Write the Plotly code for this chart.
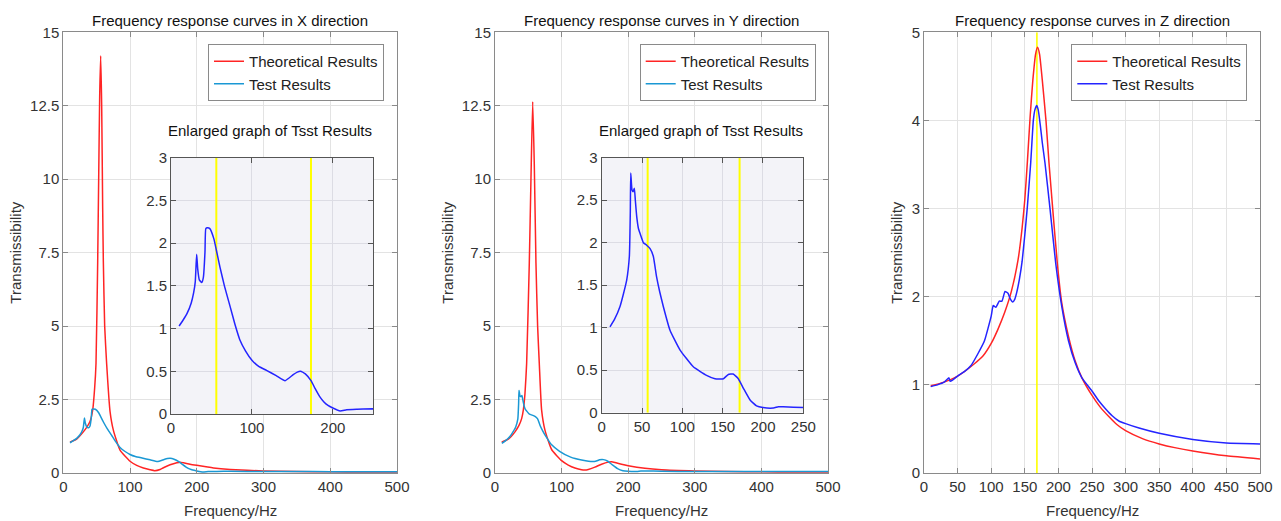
import plotly.graph_objects as go

# ---------------- data ----------------
fx_theory = [10, 20, 30, 35, 40, 44, 47, 49, 51.5, 53, 54.5, 56, 57.5, 59, 60, 62, 65, 70, 75, 85,
             100, 110, 120, 130, 137, 145, 150, 160, 170, 175, 180, 190, 200, 225, 250, 300, 350, 400, 450, 500]
tx_theory = [1.05, 1.15, 1.4, 1.55, 1.75, 2.14, 2.9, 3.73, 7.15, 10.0, 12.8, 14.2, 12.5, 9.0, 7.2, 5.0, 3.7, 2.1,
             1.46, 0.78, 0.4, 0.26, 0.17, 0.11, 0.08, 0.12, 0.18, 0.28, 0.35, 0.37, 0.35, 0.3, 0.26, 0.17, 0.12,
             0.07, 0.05, 0.04, 0.035, 0.03]

fx_test = [10, 15, 20, 25, 28, 30, 31.7, 33, 35, 38, 40, 42, 43, 45, 48, 53, 56, 60.5, 66, 73, 79, 85, 92,
           100, 108, 118, 130, 141, 151, 156, 160, 166, 173, 178, 184, 189, 194, 200, 209, 217, 230, 250,
           300, 350, 400, 450, 500]
tx_test = [1.03, 1.1, 1.18, 1.3, 1.42, 1.55, 1.87, 1.7, 1.57, 1.54, 1.6, 1.9, 2.17, 2.18, 2.17, 2.05, 1.92, 1.72,
           1.5, 1.26, 1.05, 0.87, 0.74, 0.63, 0.56, 0.51, 0.45, 0.39, 0.46, 0.49, 0.5, 0.47, 0.39, 0.3, 0.2, 0.14,
           0.1, 0.07, 0.035, 0.05, 0.055, 0.06, 0.05, 0.05, 0.045, 0.045, 0.045]

fy_theory = [10, 20, 30, 36, 40, 42.5, 45, 47.5, 51.5, 54, 56.6, 59, 61.5, 64, 66.5, 70, 75, 85,
             100, 110, 120, 130, 135, 140, 150, 160, 170, 175, 180, 190, 200, 225, 250, 300, 350, 400, 450, 500]
ty_theory = [1.05, 1.15, 1.4, 1.62, 1.85, 2.14, 2.7, 3.73, 7.15, 10.0, 12.64, 10.5, 7.15, 5.0, 3.73, 2.14, 1.46,
             0.8, 0.42, 0.27, 0.17, 0.11, 0.1, 0.12, 0.2, 0.3, 0.37, 0.38, 0.36, 0.3, 0.25, 0.16, 0.11,
             0.07, 0.05, 0.04, 0.035, 0.03]

fy_test = [10.3, 16, 22.7, 27, 31, 34.3, 35.5, 36, 37.6, 39, 40.5, 41.7, 43.5, 45.5, 47.5, 51.7, 55.8, 60, 64, 68,
           72, 76.4, 84.7, 97, 113.6, 130, 140.5, 151, 157, 163, 169.4, 175.6, 184, 192, 200, 213, 219, 225, 250,
           300, 350, 400, 450, 500]
ty_test = [1.01, 1.1, 1.25, 1.4, 1.56, 1.84, 2.38, 2.82, 2.62, 2.6, 2.64, 2.5, 2.3, 2.17, 2.11, 2.0, 1.97, 1.93,
           1.84, 1.6, 1.42, 1.25, 0.97, 0.74, 0.54, 0.44, 0.4, 0.4, 0.45, 0.455, 0.4, 0.29, 0.15, 0.08, 0.06, 0.055,
           0.07, 0.07, 0.06, 0.05, 0.05, 0.05, 0.05, 0.05]

fz_theory = [10, 25, 50, 75, 88, 100, 110, 120, 130, 140, 146, 150, 154, 158, 162, 166, 169, 172, 176, 181.5,
             186, 191.5, 198.4, 205, 215, 225, 235, 250, 262, 275, 287, 300, 325, 350, 375, 400, 450, 500]
tz_theory = [0.99, 1.02, 1.1, 1.24, 1.33, 1.47, 1.63, 1.82, 2.06, 2.42, 2.78, 3.1, 3.55, 4.05, 4.46, 4.75, 4.83,
             4.75, 4.46, 4.0, 3.52, 3.0, 2.38, 1.93, 1.55, 1.27, 1.08, 0.88, 0.75, 0.64, 0.55, 0.48, 0.39, 0.33,
             0.285, 0.25, 0.195, 0.16]

fz_test = [10, 20, 30, 37, 39, 42, 50, 60, 70, 80, 90, 100, 103, 107, 112, 116, 120.5, 125, 128, 132, 135, 138,
           142, 146, 150, 153.8, 158.8, 162.7, 165, 167.7, 170, 173, 176, 180, 187.5, 196, 205, 215, 225, 235,
           250, 260, 270, 280, 290, 300, 320, 350, 400, 450, 500]
tz_test = [0.98, 1.0, 1.03, 1.08, 1.04, 1.05, 1.1, 1.15, 1.22, 1.35, 1.5, 1.78, 1.9, 1.88, 1.95, 1.95, 2.06, 2.04,
           1.98, 1.94, 1.97, 2.05, 2.2, 2.4, 2.7, 3.02, 3.52, 4.0, 4.12, 4.17, 4.12, 3.95, 3.75, 3.52, 3.0, 2.38,
           1.89, 1.5, 1.25, 1.08, 0.93, 0.82, 0.73, 0.65, 0.59, 0.56, 0.51, 0.45, 0.38, 0.34, 0.33]

marks_x = [56, 173]     # yellow lines, X inset
marks_y = [57, 171]     # yellow lines, Y inset
mark_z = 168            # yellow line, Z panel

main_titles = ["Frequency response curves in X direction",
               "Frequency response curves in Y direction",
               "Frequency response curves in Z direction"]
inset_title = "Enlarged graph of Tsst Results"
legend_names = ["Theoretical Results", "Test Results"]

# ---------------- styling ----------------
OFF = 8                      # page body margin
W, H = 1281 - OFF, 521 - OFF
FONT = "Liberation Sans, Arial, sans-serif"
FS = 15
TXT = "#333333"
RED = "#ff2424"
CYAN = "#1a98d4"
BLUE = "#2424ff"
YELLOW = "#ffff00"
INSET_BG = "#f3f3f8"


def px_x(p):
    return (p - OFF) / W


def px_y(p):
    return 1 - (p - OFF) / H


panels = [(63.3, 397), (495, 828), (924, 1260)]
insets = [(171, 373.3, 157.7, 414), (601.7, 803.3, 157.7, 412.7)]
top, bottom = 32.3, 473

fig = go.Figure()

# main panels
series = [(fx_theory, tx_theory, fx_test, tx_test, CYAN),
          (fy_theory, ty_theory, fy_test, ty_test, CYAN),
          (fz_theory, tz_theory, fz_test, tz_test, BLUE)]
for i, (ft, tt, fe, te, col) in enumerate(series):
    ax = "" if i == 0 else str(i + 1)
    leg = "legend" if i == 0 else "legend" + str(i + 1)
    if i == 2:
        fig.add_shape(type="line", xref="x3", yref="y3", x0=mark_z, x1=mark_z, y0=0, y1=5,
                      line=dict(color=YELLOW, width=1.6), layer="between")
    fig.add_trace(go.Scatter(x=ft, y=tt, mode="lines", name=legend_names[0], legend=leg,
                             line=dict(color=RED, width=1.5, shape="spline", smoothing=0.5),
                             xaxis="x" + ax, yaxis="y" + ax))
    fig.add_trace(go.Scatter(x=fe, y=te, mode="lines", name=legend_names[1], legend=leg,
                             line=dict(color=col, width=1.5, shape="spline", smoothing=0.4),
                             xaxis="x" + ax, yaxis="y" + ax))

# insets
for j, (fe, te, marks) in enumerate([(fx_test, tx_test, marks_x), (fy_test, ty_test, marks_y)]):
    n = str(4 + j)
    fig.add_shape(type="rect", xref="x" + n, yref="y" + n, x0=0, x1=250, y0=0, y1=3,
                  fillcolor=INSET_BG, line=dict(width=0), layer="below")
    for m in marks:
        fig.add_shape(type="line", xref="x" + n, yref="y" + n, x0=m, x1=m, y0=0, y1=3,
                      line=dict(color=YELLOW, width=2), layer="between")
    fig.add_trace(go.Scatter(x=fe, y=te, mode="lines", showlegend=False,
                             line=dict(color=BLUE, width=1.5, shape="spline", smoothing=0.4),
                             xaxis="x" + n, yaxis="y" + n, cliponaxis=True))

axis_common = dict(showline=True, linecolor="#8a8a8a", linewidth=1, mirror="ticks", ticks="inside",
                   ticklen=5, tickcolor="#8a8a8a", showgrid=True, gridcolor="#e3e3e3", gridwidth=1,
                   zeroline=False, automargin=False, tickfont=dict(family=FONT, size=FS, color=TXT))

layout = dict(width=W, height=H, margin=dict(l=0, r=0, t=0, b=0), paper_bgcolor="white",
              plot_bgcolor="white", font=dict(family=FONT, size=FS, color=TXT))

yranges = [(0, 15, 2.5), (0, 15, 2.5), (0, 5, 1)]
xdticks = [100, 100, 50]
for i, ((l, r), (y0, y1, dy)) in enumerate(zip(panels, yranges)):
    k = "" if i == 0 else str(i + 1)
    layout["xaxis" + k] = dict(axis_common, domain=[px_x(l), px_x(r)], range=[0, 500], dtick=xdticks[i],
                               anchor="y" + k)
    layout["yaxis" + k] = dict(axis_common, domain=[px_y(bottom), px_y(top)], range=[y0, y1], dtick=dy,
                               anchor="x" + k)
    leg = "legend" if i == 0 else "legend" + str(i + 1)
    legend_right = [384, 815.7, 1247.3][i]
    layout[leg] = dict(x=px_x(legend_right), xanchor="right", y=px_y(44), yanchor="top",
                       bgcolor="white", bordercolor="#8a8a8a", borderwidth=1,
                       font=dict(family=FONT, size=FS, color="#222222"), itemwidth=30,
                       tracegroupgap=0)

inset_dticks = [100, 50]
for j, (l, r, t, b) in enumerate(insets):
    n = str(4 + j)
    layout["xaxis" + n] = dict(axis_common, domain=[px_x(l), px_x(r)], range=[0, 250], dtick=inset_dticks[j],
                               anchor="y" + n, gridcolor="#dcdce4", linecolor="#555555", tickcolor="#555555")
    layout["yaxis" + n] = dict(axis_common, domain=[px_y(b), px_y(t)], range=[0, 3], dtick=0.5,
                               anchor="x" + n, gridcolor="#dcdce4", linecolor="#555555", tickcolor="#555555")

annotations = []
for i, (l, r) in enumerate(panels):
    cx = px_x((l + r) / 2)
    annotations.append(dict(text=main_titles[i], x=cx, y=px_y(20), xref="paper", yref="paper",
                            showarrow=False, xanchor="center", yanchor="middle",
                            font=dict(family=FONT, size=FS, color="#111111")))
    annotations.append(dict(text="Frequency/Hz", x=cx, y=px_y(510), xref="paper", yref="paper",
                            showarrow=False, xanchor="center", yanchor="middle",
                            font=dict(family=FONT, size=FS, color=TXT)))
for xl in [16, 448, 897]:
    annotations.append(dict(text="Transmissibility", x=px_x(xl), y=px_y((top + bottom) / 2), xref="paper",
                            yref="paper", showarrow=False, textangle=-90, xanchor="center", yanchor="middle",
                            font=dict(family=FONT, size=FS, color=TXT)))
for (l, r, t, b) in insets:
    annotations.append(dict(text=inset_title, x=px_x((l + r) / 2 - 2), y=px_y(130), xref="paper", yref="paper",
                            showarrow=False, xanchor="center", yanchor="middle",
                            font=dict(family=FONT, size=FS, color="#111111")))
layout["annotations"] = annotations

fig.update_layout(**layout)
fig.write_html("out.html")
